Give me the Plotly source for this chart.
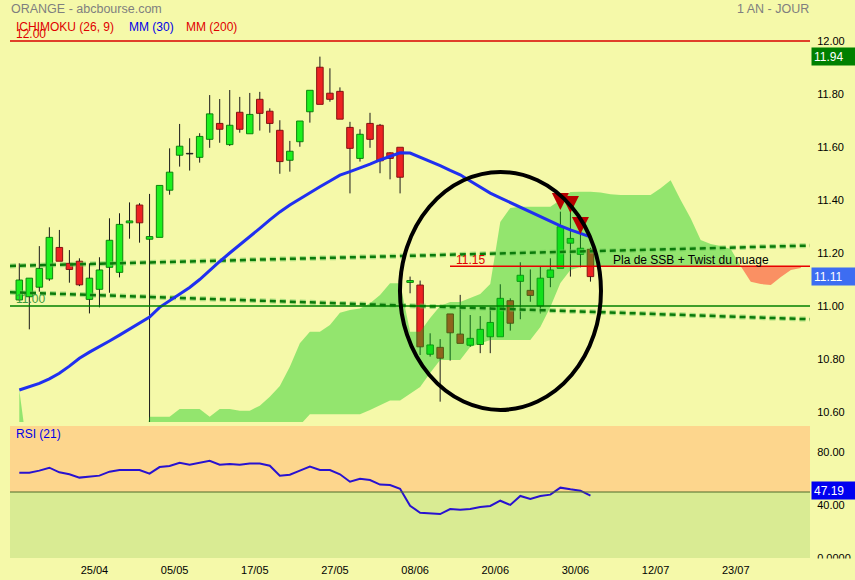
import plotly.graph_objects as go

# ---------------- data ----------------
opens  = [11.023, 11.035, 11.071, 11.102, 11.221, 11.161, 11.169, 11.025, 11.063, 11.146,
          11.127, 11.314, 11.381, 11.252, 11.259, 11.437, 11.569, 11.574, 11.561, 11.629,
          11.689, 11.609, 11.731, 11.650, 11.780, 11.735, 11.663, 11.550, 11.620, 11.733,
          11.901, 11.803, 11.810, 11.674, 11.557, 11.689, 11.682, 11.578, 11.599, 11.089,
          11.079, 10.818, 10.844, 10.970, 10.894, 10.852, 10.855, 10.884, 10.884, 11.020,
          11.093, 11.059, 11.000, 11.108, 11.142, 11.237, 11.195, 11.214]
highs  = [11.161, 11.105, 11.226, 11.297, 11.287, 11.211, 11.180, 11.161, 11.184, 11.331,
          11.350, 11.391, 11.388, 11.423, 11.455, 11.595, 11.687, 11.633, 11.652, 11.796,
          11.781, 11.815, 11.789, 11.804, 11.808, 11.746, 11.701, 11.623, 11.698, 11.814,
          11.941, 11.897, 11.825, 11.695, 11.667, 11.729, 11.687, 11.580, 11.599, 11.111,
          11.096, 10.897, 10.875, 10.970, 11.042, 10.966, 10.962, 10.997, 11.082, 11.029,
          11.165, 11.138, 11.148, 11.180, 11.356, 11.362, 11.293, 11.220]
lows   = [11.020, 10.912, 11.054, 11.095, 11.169, 11.088, 11.075, 10.972, 10.995, 11.050,
          11.108, 11.254, 11.239, 10.500, 11.259, 11.420, 11.526, 11.511, 11.541, 11.597,
          11.616, 11.604, 11.654, 11.650, 11.662, 11.654, 11.499, 11.507, 11.601, 11.692,
          11.761, 11.771, 11.705, 11.425, 11.545, 11.597, 11.501, 11.478, 11.425, 11.048,
          10.815, 10.809, 10.639, 10.794, 10.859, 10.846, 10.822, 10.822, 10.884, 10.907,
          10.950, 11.016, 10.972, 11.071, 11.142, 11.111, 11.146, 11.092]
closes = [11.098, 11.105, 11.142, 11.259, 11.169, 11.138, 11.080, 11.105, 11.136, 11.248,
          11.308, 11.321, 11.314, 11.262, 11.455, 11.505, 11.603, 11.574, 11.640, 11.725,
          11.667, 11.682, 11.667, 11.723, 11.727, 11.689, 11.545, 11.584, 11.698, 11.814,
          11.761, 11.780, 11.705, 11.595, 11.648, 11.629, 11.548, 11.557, 11.486, 11.096,
          10.846, 10.853, 10.803, 10.899, 10.859, 10.878, 10.912, 10.938, 11.029, 10.935,
          11.116, 11.040, 11.105, 11.136, 11.299, 11.255, 11.218, 11.111]

mm30 = [10.683, 10.695, 10.708, 10.725, 10.746, 10.773, 10.803, 10.826, 10.846, 10.868,
        10.890, 10.912, 10.934, 10.958, 10.995, 11.020, 11.042, 11.070, 11.100, 11.135,
        11.168, 11.200, 11.230, 11.262, 11.293, 11.325, 11.355, 11.381, 11.405, 11.428,
        11.450, 11.472, 11.494, 11.507, 11.520, 11.535, 11.551, 11.565, 11.578, 11.577,
        11.562, 11.545, 11.530, 11.512, 11.495, 11.472, 11.448, 11.426, 11.408, 11.390,
        11.372, 11.355, 11.337, 11.318, 11.302, 11.287, 11.273, 11.261]

# Ichimoku cloud (senkou spans), index 0..78 (projected ahead)
ssa = [10.683] + [10.40] * 12 + [
    10.582, 10.582, 10.582, 10.611, 10.611, 10.611, 10.582, 10.611, 10.611, 10.605,
    10.605, 10.624, 10.658, 10.698, 10.771, 10.859, 10.903, 10.903, 10.928, 10.975,
    10.985, 10.991, 11.010, 11.042, 11.086, 11.086, 10.903, 10.903, 10.955, 11.000,
    11.015, 11.015, 11.030, 11.045, 11.083, 11.317, 11.370, 11.375, 11.375, 11.375,
    11.375, 11.400, 11.430, 11.431, 11.431, 11.428, 11.422, 11.419, 11.419, 11.419,
    11.419, 11.444, 11.475, 11.400, 11.331, 11.249, 11.234, 11.226, 11.215, 11.150,
    11.092, 11.083, 11.079, 11.109, 11.136, 11.143]
ssb = [10.40] * 28 + [
    10.550, 10.592, 10.592, 10.592, 10.592, 10.592, 10.592, 10.608, 10.626, 10.643,
    10.643, 10.668, 10.694, 10.747, 10.796, 10.796, 10.796, 10.845, 10.860, 10.872,
    10.872, 10.872, 10.872, 10.872, 10.921, 10.996, 11.087, 11.136, 11.147] + [11.150] * 22

rsi = [64.6, 64.6, 66.2, 68.4, 64.9, 63.4, 60.9, 61.6, 62.4, 65.4,
       66.7, 66.7, 66.7, 63.9, 68.9, 69.7, 72.2, 70.7, 72.2, 73.7,
       70.7, 71.2, 70.7, 71.5, 71.5, 69.9, 62.4, 63.1, 66.2, 69.2,
       66.7, 66.7, 63.4, 57.8, 60.1, 59.1, 55.6, 55.3, 52.5, 39.6,
       34.3, 34.0, 33.3, 37.1, 36.6, 37.1, 38.6, 39.4, 43.4, 40.2,
       47.0, 44.7, 47.0, 48.0, 53.3, 52.0, 51.0, 47.2]

tick_labels = ["25/04", "05/05", "17/05", "27/05", "08/06", "20/06", "30/06", "12/07", "23/07"]
tick_pos = [7.5, 15.5, 23.5, 31.5, 39.5, 47.5, 55.5, 63.5, 71.5]
price_ticks = [10.6, 10.8, 11.0, 11.2, 11.4, 11.6, 11.8, 12.0]
rsi_ticks = [0, 40, 80]
rsi_tick_text = ["0.0000", "40.00", "80.00"]

trend_x = [-0.93, 78.9]
trend_upper = [11.151, 11.228]
trend_lower = [11.052, 10.950]

arrow_idx = [54, 55, 56]
arrow_price = [11.362, 11.351, 11.272]

level_high = 12.00
level_low = 11.00
level_ssb = 11.15
max_price = 11.94
last_price = 11.11
last_rsi = 47.19

# ---------------- style ----------------
W, H = 855, 580
ML, MR = 10, 45
BG = "#F5F9A9"
FONT = "Liberation Sans, Arial, sans-serif"
G_FILL, G_EDGE = "#1EF01E", "#0C850C"
R_FILL, R_EDGE = "#EE2222", "#861212"

def py(p):  # pixel y -> paper y
    return 1 - p / H

def px(p):  # pixel x -> paper x
    return (p - ML) / (W - ML - MR)

n = len(opens)
idx = list(range(n))
fig = go.Figure()

# candle bodies
base, hgt, fills, edges = [], [], [], []
for o, c in zip(opens, closes):
    base.append(min(o, c))
    hgt.append(max(abs(c - o), 0.002))
    if abs(c - o) < 0.001:
        fills.append("#222222"); edges.append("#222222")
    elif c > o:
        fills.append(G_FILL); edges.append(G_EDGE)
    else:
        fills.append(R_FILL); edges.append(R_EDGE)
fig.add_trace(go.Bar(x=idx, y=hgt, base=base, width=0.65,
                     marker=dict(color=fills, line=dict(color=edges, width=1)),
                     hoverinfo="skip"))

# wicks
wx, wy = [], []
for i, (o, h, l, c) in enumerate(zip(opens, highs, lows, closes)):
    top, bot = max(o, c), min(o, c)
    if h > top:
        wx += [i, i, None]; wy += [h, top, None]
    if l < bot:
        wx += [i, i, None]; wy += [bot, l, None]
fig.add_trace(go.Scatter(x=wx, y=wy, mode="lines", line=dict(color="#1A1A1A", width=1),
                         hoverinfo="skip"))

# cloud
cx = list(range(len(ssa)))
cut = 72
gx = cx[:cut + 1]
fig.add_trace(go.Scatter(x=gx, y=ssb[:cut + 1], mode="lines", line=dict(width=0),
                         hoverinfo="skip"))
fig.add_trace(go.Scatter(x=gx, y=[max(a, b) for a, b in zip(ssa[:cut + 1], ssb[:cut + 1])],
                         mode="lines", line=dict(width=0), fill="tonexty",
                         fillcolor="rgba(0,200,22,0.40)", hoverinfo="skip"))
rx = cx[cut:]
fig.add_trace(go.Scatter(x=rx, y=ssb[cut:], mode="lines", line=dict(width=0),
                         hoverinfo="skip"))
fig.add_trace(go.Scatter(x=rx, y=[min(a, b) for a, b in zip(ssa[cut:], ssb[cut:])],
                         mode="lines", line=dict(width=0), fill="tonexty",
                         fillcolor="rgba(255,40,30,0.50)", hoverinfo="skip"))

# dashed trend lines
for ty in (trend_upper, trend_lower):
    fig.add_trace(go.Scatter(x=trend_x, y=ty, mode="lines",
                             line=dict(color="rgba(110,200,90,0.55)", width=5, dash="6px,4px"),
                             hoverinfo="skip"))
    fig.add_trace(go.Scatter(x=trend_x, y=ty, mode="lines",
                             line=dict(color="#0B7A0B", width=2.5, dash="6px,4px"),
                             hoverinfo="skip"))

# MM 30
fig.add_trace(go.Scatter(x=idx, y=mm30, mode="lines", line=dict(color="#2030F0", width=3),
                         hoverinfo="skip"))

# arrows
fig.add_trace(go.Scatter(x=arrow_idx, y=arrow_price, mode="markers",
                         marker=dict(symbol="arrow-down", size=17, color="#B80000",
                                     line=dict(width=0)),
                         hoverinfo="skip"))

# RSI
fig.add_trace(go.Scatter(x=idx, y=rsi, mode="lines", line=dict(color="#2812D0", width=2),
                         xaxis="x", yaxis="y2", hoverinfo="skip"))

shapes = [
    dict(type="rect", xref="paper", yref="y2", x0=0, x1=1, y0=50, y1=100,
         fillcolor="#FDD68D", line=dict(width=0), layer="below"),
    dict(type="rect", xref="paper", yref="y2", x0=0, x1=1, y0=0, y1=50,
         fillcolor="#D9EB93", line=dict(width=0), layer="below"),
    dict(type="line", xref="paper", yref="y2", x0=0, x1=1, y0=50, y1=50,
         line=dict(color="#4F6A2A", width=1)),
    dict(type="line", xref="paper", yref="y", x0=0, x1=1, y0=level_high, y1=level_high,
         line=dict(color="#D80000", width=1.5)),
    dict(type="line", xref="paper", yref="y", x0=0, x1=1, y0=level_low, y1=level_low,
         line=dict(color="#008000", width=1.5)),
    dict(type="line", xref="paper", yref="y", x0=px(450), x1=1, y0=level_ssb, y1=level_ssb,
         line=dict(color="#E80000", width=1.5)),
    dict(type="circle", xref="x", yref="y", x0=37.99, x1=58.05, y0=10.608, y1=11.506,
         line=dict(color="#000000", width=4)),
    # clip of the bottom RSI label
    dict(type="rect", xref="paper", yref="paper", x0=1.0, x1=1.07, y0=-0.01, y1=py(558.5),
         fillcolor=BG, line=dict(width=0), layer="above"),
]

def txt(text, x, y, color, size=12, xanchor="left", yanchor="middle", xref="paper",
        yref="paper", **kw):
    return dict(text=text, x=x, y=y, xref=xref, yref=yref, xanchor=xanchor,
                yanchor=yanchor, showarrow=False, font=dict(family=FONT, size=size, color=color),
                **kw)

annotations = [
    txt("ORANGE - abcbourse.com", px(9), py(9), "#7F7F7F", 12.5),
    txt("1 AN - JOUR", px(811), py(9), "#7F7F7F", 12.5, xanchor="right"),
    txt("ICHIMOKU (26, 9)", px(14), py(27), "#E00000"),
    txt("MM (30)", px(126.5), py(27), "#0000E8"),
    txt("MM (200)", px(184), py(27), "#E00000"),
    txt("12.00", px(14), py(34.5), "#E00000"),
    txt("11.00", px(14), py(299), "#3C9A3C"),
    txt("11.15", px(454), py(260), "#E00000"),
    txt("Pla de SSB + Twist du nuage", px(611), py(260), "#000000"),
    txt("RSI (21)", px(14), py(434), "#0000E8"),
    txt("%.2f" % max_price, 1, max_price, "#FFFFFF", 12, yref="y", bgcolor="#008000",
        width=39, height=13, align="left", borderpad=2, xshift=1),
    txt("%.2f" % last_price, 1, last_price, "#FFFFFF", 12, yref="y", bgcolor="#3D6DF2",
        width=39, height=13, align="left", borderpad=2, xshift=1),
    txt("%.2f" % last_rsi, 1, last_rsi, "#FFFFFF", 12, yref="y2", bgcolor="#0000F0",
        width=39, height=13, align="left", borderpad=2, xshift=1, yshift=5),
]

fig.update_layout(
    template="none",
    width=W, height=H,
    margin=dict(l=ML, r=MR, t=0, b=0, pad=0),
    paper_bgcolor=BG, plot_bgcolor=BG,
    showlegend=False,
    font=dict(family=FONT, size=11, color="#000000"),
    xaxis=dict(domain=[0, 1], range=[-0.928, 78.91], anchor="y2",
               tickvals=tick_pos, ticktext=tick_labels, ticks="outside", ticklen=2,
               tickcolor="rgba(0,0,0,0)",
               tickfont=dict(family=FONT, size=11, color="#000000"),
               showgrid=False, zeroline=False, showline=False, automargin=False),
    yaxis=dict(domain=[py(422), py(10)], range=[10.5623, 12.117], side="right", anchor="x",
               tickvals=price_ticks, ticktext=["%.2f" % v for v in price_ticks],
               ticks="outside", ticklen=4, tickcolor="rgba(0,0,0,0)",
               tickfont=dict(family=FONT, size=11, color="#000000"),
               showgrid=False, zeroline=False, showline=False, automargin=False),
    yaxis2=dict(domain=[py(558), py(426)], range=[0, 100], side="right", anchor="x",
                tickvals=rsi_ticks, ticktext=rsi_tick_text,
                ticks="outside", ticklen=4, tickcolor="rgba(0,0,0,0)",
                tickfont=dict(family=FONT, size=11, color="#000000"),
                showgrid=False, zeroline=False, showline=False, automargin=False),
    shapes=shapes,
    annotations=annotations,
)

fig.write_html("out.html", config={"displayModeBar": False},
               post_script="document.body.style.margin='0';document.body.style.background='%s';" % BG)
